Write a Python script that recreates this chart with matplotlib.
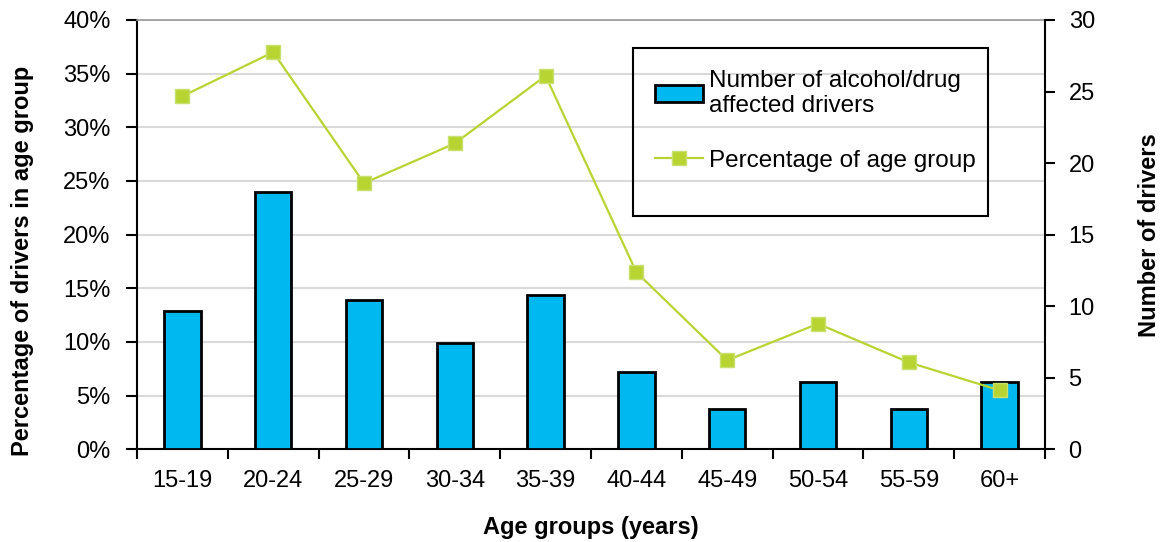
import numpy as np
import matplotlib
matplotlib.use('Agg')
import matplotlib.pyplot as plt
from matplotlib.ticker import PercentFormatter, FixedLocator
from matplotlib.patches import Rectangle

plt.rcParams['font.family'] = ['Liberation Sans', 'DejaVu Sans']

# data
age_groups = ['15-19', '20-24', '25-29', '30-34', '35-39',
              '40-44', '45-49', '50-54', '55-59', '60+']
num_drivers = [9.7, 18.0, 10.4, 7.4, 10.8, 5.4, 2.8, 4.7, 2.8, 4.7]
pct_of_group = [32.9, 37.0, 24.8, 28.5, 34.8, 16.5, 8.3, 11.7, 8.1, 5.5]

bar_color = '#00B8F0'
line_color = '#B8D432'
fs = 17

fig = plt.figure(figsize=(11.62, 5.42), dpi=100)
ax = fig.add_axes([0.1179, 0.171, 0.7814, 0.7921])
x = np.arange(len(age_groups))

# left axis: percentage scale + grid (bottom layer)
ax.set_ylim(0, 40)
ax.set_yticks(np.arange(0, 41, 5))
ax.yaxis.set_major_formatter(PercentFormatter(decimals=0))
ax.yaxis.grid(True, color='#D9D9D9', linewidth=1.5)
ax.set_axisbelow(True)
ax.set_xlim(-0.5, len(age_groups) - 0.5)
ax.set_xticks(x)
ax.set_xticklabels(age_groups)
ax.xaxis.set_minor_locator(FixedLocator(np.arange(-0.5, len(age_groups), 1)))
ax.tick_params(axis='x', which='major', length=0, pad=15, labelsize=fs)
ax.tick_params(axis='x', which='minor', length=7, width=1.5, direction='out')
ax.tick_params(axis='y', length=8, width=1.5, direction='out', pad=11, labelsize=fs)
for s in ['left', 'bottom']:
    ax.spines[s].set_linewidth(1.5)
ax.spines['top'].set_color('#999999')
ax.spines['top'].set_linewidth(1.2)
ax.spines['right'].set_visible(False)
ax.set_ylabel('Percentage of drivers in age group', fontsize=fs, fontweight='bold')
ax.yaxis.set_label_coords(-0.113, 0.44)
ax.set_xlabel('Age groups (years)', fontsize=fs, fontweight='bold', labelpad=17)

# right axis: number of drivers as bars
ax2 = ax.twinx()
bars = ax2.bar(x, num_drivers, width=0.4, color=bar_color, edgecolor='black',
               linewidth=2.0, label='Number of alcohol/drug\naffected drivers')
ax2.set_ylim(0, 30)
ax2.set_yticks(np.arange(0, 31, 5))
ax2.tick_params(axis='y', length=7, width=1.5, direction='out', pad=10, labelsize=fs)
ax2.spines['right'].set_linewidth(1.5)
for s in ['top', 'left', 'bottom']:
    ax2.spines[s].set_visible(False)
ax2.set_ylabel('Number of drivers', fontsize=fs, fontweight='bold', labelpad=31)

# top layer: percentage line, same scale as left axis
ax3 = ax.twinx()
ax3.set_ylim(0, 40)
ax3.axis('off')
line, = ax3.plot(x, pct_of_group, color=line_color, linewidth=1.6, marker='s',
                 markersize=10.5, markerfacecolor=line_color, markeredgecolor='#C8E070',
                 label='Percentage of age group')

leg = ax3.legend(handles=[bars, line], loc='upper left', bbox_to_anchor=(0.546, 0.935),
                 frameon=False, fontsize=17.5, handlelength=2.0, handletextpad=0.25,
                 labelspacing=1.35, borderpad=0.4)
ax3.add_patch(Rectangle((0.546, 0.543), 0.391, 0.392, transform=ax3.transAxes,
                        fill=False, edgecolor='black', linewidth=1.5, clip_on=False))

fig.savefig('out.png', dpi=100)
